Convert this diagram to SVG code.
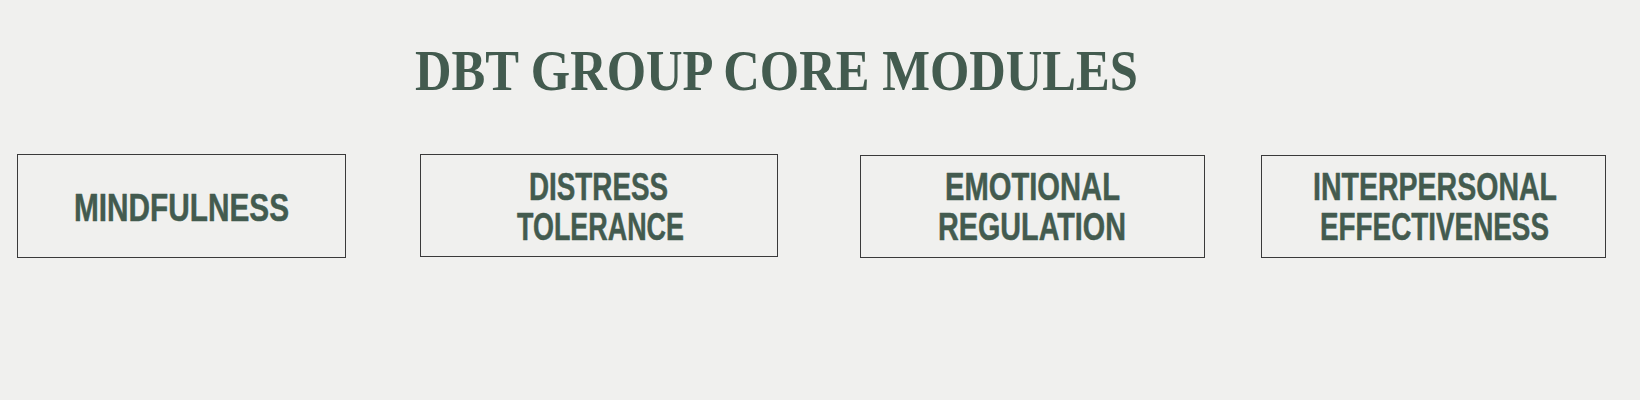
<svg xmlns="http://www.w3.org/2000/svg" width="1640" height="400" viewBox="0 0 1640 400">
<style>
.bg{fill:#f0f0ee}
.box{fill:none;stroke:#3a3a3a;stroke-width:1}
.lbl{font-family:"Liberation Sans",Arial,sans-serif;font-weight:bold;font-size:38px;fill:#435b4f;stroke:#435b4f;stroke-width:0.5px;stroke-linejoin:round}
.title{font-family:"Liberation Serif","Times New Roman",serif;font-weight:bold;font-size:56px;fill:#435b4f}
</style>
<rect class="bg" x="0" y="0" width="1640" height="400"/>
<text class="title" x="415" y="90" textLength="723" lengthAdjust="spacingAndGlyphs">DBT GROUP CORE MODULES</text>
<g id="connectors"></g>
<g id="mindfulness">
<rect class="box" x="17.5" y="154.5" width="328" height="103"/>
<text class="lbl" x="74" y="221" textLength="215" lengthAdjust="spacingAndGlyphs">MINDFULNESS</text>
</g>
<g id="distress-tolerance">
<rect class="box" x="420.5" y="154.5" width="357" height="102"/>
<text class="lbl" x="529" y="200" textLength="139" lengthAdjust="spacingAndGlyphs">DISTRESS</text>
<text class="lbl" x="517" y="240" textLength="167" lengthAdjust="spacingAndGlyphs">TOLERANCE</text>
</g>
<g id="emotional-regulation">
<rect class="box" x="860.5" y="155.5" width="344" height="102"/>
<text class="lbl" x="945" y="200" textLength="175" lengthAdjust="spacingAndGlyphs">EMOTIONAL</text>
<text class="lbl" x="938" y="240" textLength="188" lengthAdjust="spacingAndGlyphs">REGULATION</text>
</g>
<g id="interpersonal-effectiveness">
<rect class="box" x="1261.5" y="155.5" width="344" height="102"/>
<text class="lbl" x="1313" y="200" textLength="244" lengthAdjust="spacingAndGlyphs">INTERPERSONAL</text>
<text class="lbl" x="1320" y="240" textLength="229" lengthAdjust="spacingAndGlyphs">EFFECTIVENESS</text>
</g>
</svg>
